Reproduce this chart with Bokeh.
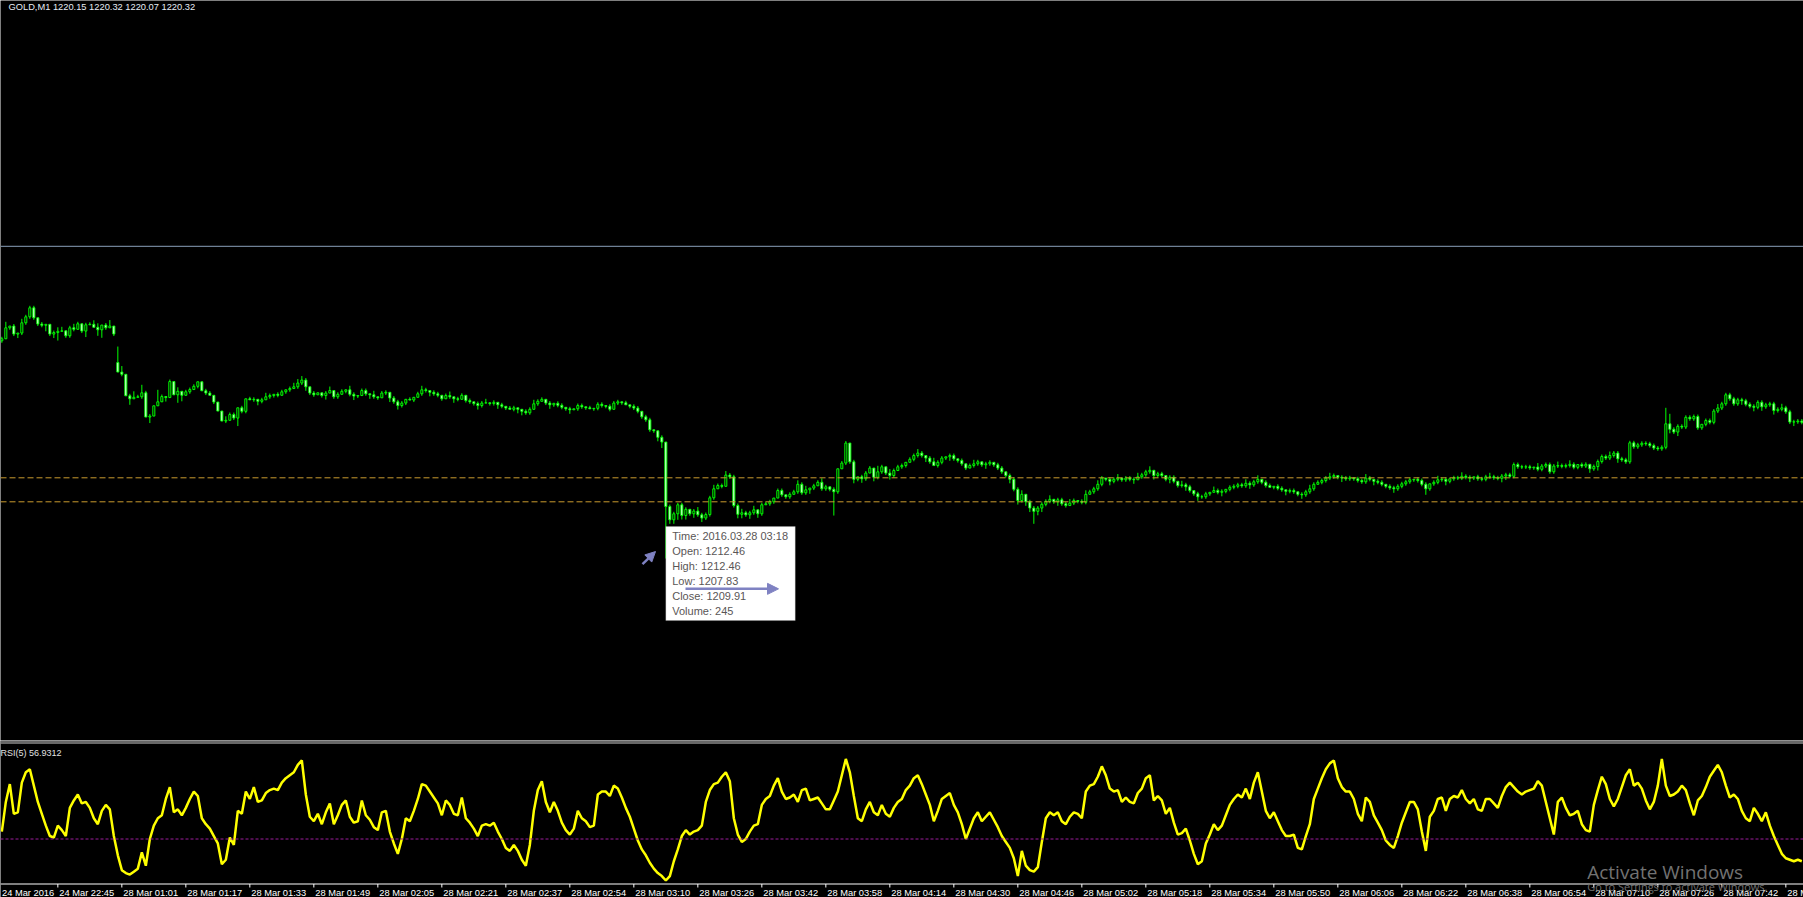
from bokeh.plotting import figure
from bokeh.layouts import column
from bokeh.models import (Range1d, Span, Label, ColumnDataSource,
                          BoxAnnotation, Arrow, NormalHead)
from bokeh.embed import file_html
from bokeh.resources import INLINE
from bokeh.core.properties import value

# ---------------------------------------------------------------- data
SYMBOL = "GOLD,M1"
LAST_OHLC = [1220.15, 1220.32, 1220.07, 1220.32]
BID_PRICE = 1220.32
H_LINES = [1211.06, 1210.10]

CLOSE = [
    1216.62, 1217.06, 1217.13, 1216.81, 1216.85, 1217.26, 1217.50, 1217.86, 1217.46, 1217.21,
    1217.16, 1217.20, 1216.81, 1216.87, 1216.92, 1216.94, 1216.74, 1217.06, 1217.00, 1217.22,
    1216.93, 1217.18, 1217.20, 1217.08, 1216.98, 1217.17, 1217.06, 1217.13, 1216.81, 1215.29,
    1215.20, 1214.34, 1214.22, 1214.28, 1214.30, 1214.46, 1213.49, 1213.53, 1213.94, 1214.10,
    1214.31, 1214.27, 1214.91, 1214.38, 1214.52, 1214.36, 1214.50, 1214.59, 1214.72, 1214.90,
    1214.54, 1214.45, 1214.36, 1214.09, 1213.73, 1213.33, 1213.36, 1213.59, 1213.45, 1213.86,
    1213.72, 1214.22, 1214.18, 1214.20, 1214.12, 1214.18, 1214.30, 1214.35, 1214.40, 1214.36,
    1214.50, 1214.58, 1214.63, 1214.70, 1214.85, 1214.97, 1214.70, 1214.45, 1214.38, 1214.46,
    1214.35, 1214.45, 1214.55, 1214.30, 1214.40, 1214.52, 1214.58, 1214.40, 1214.33, 1214.35,
    1214.55, 1214.42, 1214.38, 1214.30, 1214.26, 1214.45, 1214.48, 1214.25, 1214.10, 1213.95,
    1214.05, 1214.20, 1214.17, 1214.28, 1214.42, 1214.58, 1214.55, 1214.48, 1214.42, 1214.36,
    1214.22, 1214.35, 1214.30, 1214.22, 1214.20, 1214.36, 1214.15, 1214.10, 1214.03, 1213.95,
    1214.05, 1214.06, 1214.03, 1214.08, 1213.98, 1213.92, 1213.85, 1213.80, 1213.86, 1213.80,
    1213.72, 1213.66, 1213.80, 1214.02, 1214.12, 1214.20, 1214.05, 1213.98, 1214.04, 1213.96,
    1213.88, 1213.82, 1213.78, 1213.82, 1213.95, 1213.90, 1213.86, 1213.82, 1213.84, 1214.00,
    1213.95, 1213.92, 1213.80, 1214.05, 1214.10, 1214.06, 1213.98, 1213.92, 1213.85, 1213.72,
    1213.50, 1213.38, 1212.98, 1212.94, 1212.68, 1212.49, 1209.91, 1209.38, 1209.62, 1209.98,
    1209.55, 1209.80, 1209.62, 1209.73, 1209.58, 1209.45, 1209.59, 1210.26, 1210.62, 1210.75,
    1210.72, 1211.17, 1211.10, 1209.95, 1209.60, 1209.66, 1209.58, 1209.66, 1209.78, 1209.62,
    1209.98, 1210.02, 1210.10, 1210.25, 1210.55, 1210.38, 1210.30, 1210.40, 1210.50, 1210.80,
    1210.46, 1210.58, 1210.65, 1210.74, 1210.88, 1210.62, 1210.70, 1210.60, 1210.50, 1211.42,
    1211.65, 1212.45, 1211.70, 1211.00, 1211.10, 1211.02, 1211.25, 1211.45, 1211.08, 1211.30,
    1211.50, 1211.25, 1211.15, 1211.35, 1211.50, 1211.55, 1211.68, 1211.80, 1211.95, 1212.05,
    1211.95, 1211.85, 1211.70, 1211.55, 1211.68, 1211.85, 1211.90, 1211.95, 1211.82, 1211.75,
    1211.62, 1211.45, 1211.55, 1211.62, 1211.70, 1211.58, 1211.62, 1211.68, 1211.58, 1211.45,
    1211.30, 1211.15, 1211.00, 1210.60, 1210.15, 1210.40, 1210.10, 1209.85, 1209.72, 1209.85,
    1210.00, 1210.12, 1210.20, 1210.10, 1210.18, 1210.02, 1209.95, 1210.05, 1210.15, 1210.12,
    1210.08, 1210.40, 1210.50, 1210.62, 1210.80, 1211.05, 1211.00, 1210.92, 1211.00, 1211.05,
    1210.98, 1211.05, 1211.00, 1210.98, 1211.10, 1211.18, 1211.30, 1211.36, 1211.15, 1211.22,
    1211.15, 1211.00, 1211.08, 1210.92, 1210.75, 1210.78, 1210.70, 1210.55, 1210.42, 1210.30,
    1210.30, 1210.42, 1210.48, 1210.55, 1210.48, 1210.52, 1210.60, 1210.68, 1210.72, 1210.78,
    1210.74, 1210.84, 1210.78, 1210.90, 1211.00, 1210.88, 1210.75, 1210.68, 1210.72, 1210.64,
    1210.58, 1210.52, 1210.55, 1210.50, 1210.40, 1210.38, 1210.50, 1210.62, 1210.80, 1210.88,
    1210.95, 1211.05, 1211.10, 1211.15, 1211.08, 1211.05, 1211.02, 1211.06, 1211.02, 1210.95,
    1210.90, 1211.05, 1211.00, 1210.92, 1210.88, 1210.80, 1210.72, 1210.66, 1210.62, 1210.72,
    1210.82, 1210.90, 1210.98, 1211.00, 1210.95, 1210.80, 1210.62, 1210.82, 1210.88, 1210.98,
    1211.00, 1210.92, 1211.02, 1211.06, 1211.05, 1211.12, 1211.08, 1211.05, 1211.10, 1211.02,
    1211.00, 1211.10, 1211.10, 1211.06, 1211.04, 1211.13, 1211.18, 1211.12, 1211.59, 1211.50,
    1211.49, 1211.50, 1211.46, 1211.49, 1211.40, 1211.53, 1211.59, 1211.30, 1211.53, 1211.55,
    1211.52, 1211.55, 1211.60, 1211.48, 1211.59, 1211.53, 1211.60, 1211.42, 1211.51, 1211.71,
    1211.91, 1211.85, 1211.95, 1212.05, 1211.82, 1211.78, 1211.70, 1212.46, 1212.30, 1212.38,
    1212.44, 1212.42, 1212.35, 1212.25, 1212.22, 1212.28, 1213.22, 1213.00, 1212.89, 1213.12,
    1213.09, 1213.48, 1213.42, 1213.51, 1213.06, 1213.20, 1213.35, 1213.28, 1213.73, 1213.85,
    1214.02, 1214.38, 1214.22, 1214.02, 1214.18, 1214.14, 1214.00, 1213.92, 1213.88, 1214.08,
    1213.90, 1213.98, 1214.02, 1213.75, 1213.80, 1213.86, 1213.70, 1213.29, 1213.30, 1213.33,
    1213.28,
]
OPEN_GAP = {0: 1216.54, 29: 1215.67}
HIGH_FIX = {29: 1216.31}
LOW_FIX = {166: 1207.83, 208: 1209.55, 258: 1209.22}
WICK_STEP = 0.08
WICK_UP = "".join([
    "1301021110", "1001220121", "0112201300", "3013141106", "1010201110",
    "0110002110", "1011012101", "1012221010", "0120110210", "1102011011",
    "1010121011", "0120110101", "1201010110", "0112110101", "1010110101",
    "1011101011", "0110010111", "1101211121", "1211121120", "1110110112",
    "1201121010", "1101011103", "1021110112", "1012110110", "1012101101",
    "1011120111", "1120111210", "1211210112", "0111211201", "1011021101",
    "1102110111", "1211201101", "1011011211", "1121011101", "1210110111",
    "1110111012", "1101121101", "1121111111", "1110211112", "1121011011",
    "1121111111", "1111118511", "1111101112", "1111111111", "1111121111",
    "1",
])
WICK_DN = "".join([
    "1011211111", "1312401110", "1300341010", "1030010300", "0200430101",
    "0101001014", "1101210111", "0110112110", "1201101121", "0121101212",
    "1101011211", "1012101112", "1011211012", "2110101211", "1120111011",
    "1110110111", "1111230223", "2212121110", "1011221212", "1011011101",
    "1121011151", "0112121021", "1121011011", "1210111211", "1101112111",
    "1121212242", "2111211011", "1101111211", "1112011121", "1121112112",
    "1110121111", "1121111011", "1211121110", "1111121111", "1112111121",
    "1111113111", "1211111211", "1111122111", "1111111111", "1111111212",
    "1111211111", "1111111212", "1111111111", "1111121121", "2112111121",
    "1",
])

RSI_PERIOD = 5
RSI_VALUE = 56.9312
RSI_LEVEL = 30
RSI = [
    35, 55, 67, 47, 48, 68, 75, 77, 66, 55,
    47, 39, 32, 31, 39, 36, 32, 51, 56, 60,
    54, 55, 51, 44, 40, 49, 53, 50, 32, 19,
    9, 7, 6, 8, 10, 21, 12, 30, 39, 44,
    46, 57, 65, 48, 50, 46, 51, 57, 62, 59,
    44, 40, 37, 32, 27, 13, 16, 31, 26, 49,
    47, 62, 57, 65, 55, 56, 61, 63, 64, 63,
    68, 71, 73, 75, 80, 83, 60, 45, 42, 47,
    40, 48, 54, 40, 46, 53, 56, 45, 41, 42,
    56, 46, 43, 38, 36, 48, 49, 35, 27, 20,
    30, 44, 42, 49, 57, 67, 66, 62, 58, 54,
    46, 56, 53, 47, 46, 58, 44, 41, 37, 32,
    39, 40, 39, 41, 35, 30, 24, 22, 26, 22,
    16, 12, 26, 49, 63, 69, 55, 48, 55, 49,
    41, 36, 33, 37, 49, 44, 42, 38, 39, 60,
    62, 62, 59, 66, 64, 58, 51, 45, 37, 29,
    23, 19, 14, 10, 7, 5, 2, 5, 15, 23,
    32, 36, 33, 35, 36, 39, 55, 63, 67, 68,
    72, 75, 69, 44, 33, 28, 30, 35, 39, 40,
    53, 57, 59, 66, 71, 62, 57, 58, 60, 55,
    63, 64, 56, 57, 58, 54, 50, 50, 56, 62,
    73, 84, 75, 59, 44, 42, 50, 55, 48, 46,
    53, 47, 45, 51, 55, 57, 63, 66, 71, 73,
    67, 60, 53, 42, 49, 57, 59, 61, 53, 48,
    40, 30, 37, 44, 48, 42, 45, 48, 43, 38,
    32, 28, 24, 17, 5, 22, 12, 9, 8, 11,
    28, 44, 48, 46, 48, 42, 40, 45, 48, 47,
    44, 62, 66, 67, 72, 79, 73, 64, 62, 63,
    55, 58, 55, 54, 61, 64, 71, 73, 56, 59,
    56, 47, 51, 41, 33, 34, 37, 29, 20, 13,
    15, 27, 33, 40, 36, 39, 46, 53, 57, 60,
    58, 64, 57, 68, 75, 62, 49, 44, 48, 42,
    36, 32, 32, 33, 24, 23, 32, 40, 57, 64,
    71, 77, 81, 83, 71, 65, 62, 62, 57, 47,
    42, 58, 55, 46, 41, 36, 29, 26, 24, 32,
    41, 48, 55, 55, 50, 35, 22, 45, 49, 57,
    58, 49, 57, 59, 58, 63, 57, 54, 57, 50,
    49, 57, 57, 54, 51, 59, 65, 68, 65, 62,
    60, 62, 63, 64, 69, 66, 55, 44, 33, 55,
    58, 51, 46, 47, 49, 40, 36, 35, 53, 63,
    72, 67, 57, 52, 57, 65, 73, 77, 66, 68,
    64, 56, 50, 55, 66, 84, 66, 59, 60, 62,
    66, 63, 54, 46, 56, 59, 65, 72, 76, 80,
    75, 66, 58, 60, 57, 49, 44, 42, 51, 47,
    42, 48, 39, 32, 26, 20, 17, 16, 15, 16,
    15,
]

TICK_BARS = [-2, 14, 30, 46, 62, 78, 94, 110, 126, 142, 158, 174, 190, 206, 222,
             238, 254, 270, 286, 302, 318, 334, 350, 366, 382, 398, 414, 430, 446]
TICK_LABELS = [
    "24 Mar 2016", "24 Mar 22:45", "28 Mar 01:01", "28 Mar 01:17", "28 Mar 01:33",
    "28 Mar 01:49", "28 Mar 02:05", "28 Mar 02:21", "28 Mar 02:37", "28 Mar 02:54",
    "28 Mar 03:10", "28 Mar 03:26", "28 Mar 03:42", "28 Mar 03:58", "28 Mar 04:14",
    "28 Mar 04:30", "28 Mar 04:46", "28 Mar 05:02", "28 Mar 05:18", "28 Mar 05:34",
    "28 Mar 05:50", "28 Mar 06:06", "28 Mar 06:22", "28 Mar 06:38", "28 Mar 06:54",
    "28 Mar 07:10", "28 Mar 07:26", "28 Mar 07:42", "28 Mar 07:58",
]

TIP_BAR = 166
TIP_CURSOR = 1209.11
TIP_LINES = ["Time: 2016.03.28 03:18", "Open: 1212.46", "High: 1212.46",
             "Low:  1207.83", "Close: 1209.91", "Volume: 245"]

# ---------------------------------------------------------------- geometry / style
W = 1803
BAR_PX = 4.0
X0 = -1.33 / 4
X1 = X0 + W / BAR_PX
MAIN_H = 740
P_PX = 25.0
P_TOP = 1230.152
P_BOT = P_TOP - MAIN_H / P_PX
RSI_H = 157
R_PX = 1.483
R_ZERO = 143                      # px from the top of the RSI panel to RSI = 0
R_TOP = R_ZERO / R_PX
R_BOT = -(RSI_H - R_ZERO) / R_PX

LIME = "#00ff00"
ARROW_C = "#7f82c2"
FONT = "Liberation Sans"


def rsi_at(px_from_top):
    return (R_ZERO - px_from_top) / R_PX


# ---------------------------------------------------------------- candles
n = len(CLOSE)
xs = list(range(n))
opens, highs, lows, tops, bots, fills = [], [], [], [], [], []
for i in range(n):
    o = OPEN_GAP[i] if i in OPEN_GAP else CLOSE[i - 1]
    c = CLOSE[i]
    hi = HIGH_FIX.get(i, max(o, c) + int(WICK_UP[i]) * WICK_STEP)
    lo = LOW_FIX.get(i, min(o, c) - int(WICK_DN[i]) * WICK_STEP)
    opens.append(o)
    highs.append(hi)
    lows.append(lo)
    tops.append(max(o, c))
    bots.append(min(o, c))
    fills.append("white" if c < o else "black")

src = ColumnDataSource(dict(x=xs, open=opens, close=CLOSE, high=highs, low=lows,
                            top=tops, bottom=bots, fill=fills))

p = figure(width=W, height=MAIN_H, x_range=Range1d(X0, X1), y_range=Range1d(P_BOT, P_TOP),
           output_backend="svg", toolbar_location=None,
           x_axis_location=None, y_axis_location=None,
           background_fill_color="black", border_fill_color="black",
           outline_line_color=None, min_border=0)
p.grid.visible = False

p.segment(x0="x", y0="high", x1="x", y1="low", line_color=LIME, line_width=1, source=src)
p.vbar(x="x", width=0.5, top="top", bottom="bottom", fill_color="fill",
       line_color=LIME, line_width=1, source=src)

p.add_layout(Span(location=BID_PRICE, dimension="width", line_color="#8aa0bb", line_width=1))
for lvl in H_LINES:
    p.add_layout(Span(location=lvl, dimension="width", line_color="#c99a2e",
                      line_width=1, line_dash="6 3"))

title = SYMBOL + "  " + " ".join(f"{v:.2f}" for v in LAST_OHLC)
p.add_layout(Label(x=X0, y=P_TOP - 1 / P_PX, x_offset=8, text=title,
                   text_baseline="top", text_align="left", text_font=FONT,
                   text_font_size="9.3px", text_color="#e6ecf5"))

# data-window tooltip
tip_w = 129.4 / BAR_PX
tip_h = 94 / P_PX
p.add_layout(BoxAnnotation(left=TIP_BAR, right=TIP_BAR + tip_w, top=TIP_CURSOR,
                           bottom=TIP_CURSOR - tip_h, fill_color="white", fill_alpha=1,
                           line_color="#9a9a9a", line_width=1))
for k, line in enumerate(TIP_LINES):
    p.add_layout(Label(x=TIP_BAR, y=TIP_CURSOR - (9.5 + 14.95 * k) / P_PX, x_offset=6.4,
                       text=line, text_baseline="middle", text_align="left",
                       text_font=FONT, text_font_size="11px", text_color="#5a5656"))

p.add_layout(Arrow(end=NormalHead(size=11, fill_color=ARROW_C, line_color=ARROW_C),
                   x_start=(685 - 1.33) / BAR_PX, y_start=TIP_CURSOR - 62.3 / P_PX,
                   x_end=(778 - 1.33) / BAR_PX, y_end=TIP_CURSOR - 62.3 / P_PX,
                   line_color=ARROW_C, line_width=2.5))
p.add_layout(Arrow(end=NormalHead(size=10, fill_color=ARROW_C, line_color=ARROW_C),
                   x_start=(642 - 1.33) / BAR_PX, y_start=TIP_CURSOR - 37.5 / P_PX,
                   x_end=(655 - 1.33) / BAR_PX, y_end=TIP_CURSOR - 25 / P_PX,
                   line_color=ARROW_C, line_width=2.5))

# ---------------------------------------------------------------- RSI panel + time scale
r = figure(width=W, height=RSI_H, x_range=p.x_range, y_range=Range1d(R_BOT, R_TOP),
           output_backend="svg", toolbar_location=None,
           x_axis_location=None, y_axis_location=None,
           background_fill_color="black", border_fill_color="black",
           outline_line_color=None, min_border=0)
r.grid.visible = False

# window separators
r.add_layout(Span(location=rsi_at(0.5), dimension="width", line_color="#d0d0d0", line_width=1))
r.add_layout(Span(location=rsi_at(2.5), dimension="width", line_color="#d0d0d0", line_width=1))
r.add_layout(Span(location=RSI_LEVEL, dimension="width", line_color="#9b1d9b",
                  line_width=1, line_dash="3 2"))
r.line(x=xs, y=RSI, line_color="#ffff00", line_width=2.5)

r.add_layout(Label(x=X0, y=rsi_at(7.5), text=f"RSI({RSI_PERIOD}) {RSI_VALUE:.4f}",
                   text_baseline="top", text_align="left", text_font=FONT,
                   text_font_size="9px", text_color="#e0e0e0"))

# time scale: axis line, ticks and left-aligned labels (MT4 style)
r.add_layout(Span(location=rsi_at(R_ZERO + 0.5), dimension="width",
                  line_color="white", line_width=1))
r.segment(x0=TICK_BARS, y0=[rsi_at(R_ZERO + 0.5)] * len(TICK_BARS),
          x1=TICK_BARS, y1=[rsi_at(R_ZERO + 4)] * len(TICK_BARS),
          line_color="white", line_width=1)
lab_x = [max(b, X0) for b in TICK_BARS]
r.text(x=lab_x, y=[rsi_at(R_ZERO + 9.5)] * len(TICK_BARS), text=TICK_LABELS,
       x_offset=1.5, text_align="left", text_baseline="alphabetic",
       text_font=value(FONT), text_font_size="9.3px", text_color="white")

# screenshot watermark
r.add_layout(Label(x=(1586.7 - 1.33) / BAR_PX, y=rsi_at(858 - 740),
                   text="Activate Windows", text_baseline="top", text_align="left",
                   text_font="Open Sans", text_font_size="19px", text_color="#727272"))
r.add_layout(Label(x=(1586.7 - 1.33) / BAR_PX, y=rsi_at(878 - 740),
                   text="Go to Settings to activate Windows.", text_baseline="top",
                   text_align="left", text_font="Open Sans", text_font_size="11px",
                   text_color="#727272"))

layout = column(p, r, spacing=0)
open("out.html", "w").write(file_html(layout, INLINE))
